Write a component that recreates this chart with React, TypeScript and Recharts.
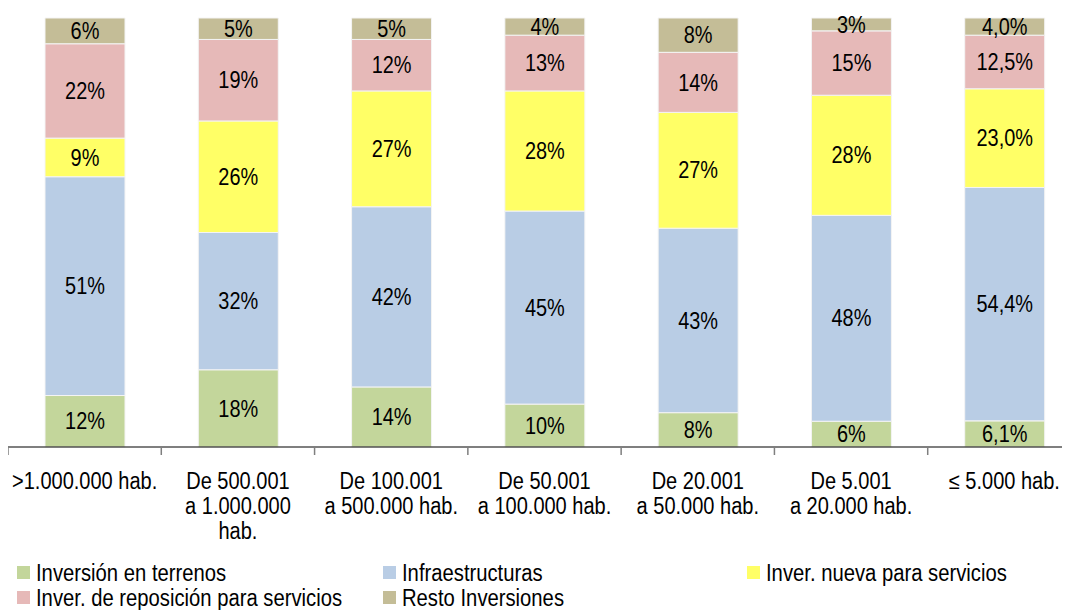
import React from "react";
import { BarChart, Bar, XAxis, YAxis, LabelList } from "recharts";

const categories = [
  ">1.000.000 hab.",
  "De 500.001\na 1.000.000\nhab.",
  "De 100.001\na 500.000 hab.",
  "De 50.001\na 100.000 hab.",
  "De 20.001\na 50.000 hab.",
  "De 5.001\na 20.000 hab.",
  "≤ 5.000 hab.",
];
const decimals = [0, 0, 0, 0, 0, 0, 1];

const terrenos = [12, 18, 14, 10, 8, 6, 6.1];
const infraestructuras = [51, 32, 42, 45, 43, 48, 54.4];
const nueva = [9, 26, 27, 28, 27, 28, 23.0];
const reposicion = [22, 19, 12, 13, 14, 15, 12.5];
const resto = [6, 5, 5, 4, 8, 3, 4.0];

const series = [
  { key: "terrenos", name: "Inversión en terrenos", values: terrenos, color: "#C3D69B" },
  { key: "infra", name: "Infraestructuras", values: infraestructuras, color: "#B9CDE5" },
  { key: "nueva", name: "Inver. nueva para servicios", values: nueva, color: "#FFFF66" },
  { key: "repo", name: "Inver. de reposición para servicios", values: reposicion, color: "#E6B9B8" },
  { key: "resto", name: "Resto Inversiones", values: resto, color: "#C4BD97" },
];

const legendOrder = [
  ["terrenos", "infra", "nueva"],
  ["repo", "resto"],
];

const FONT = '"Liberation Sans", Arial, sans-serif';

const fmt = (v: number, d: number) => v.toFixed(d).replace(".", ",") + "%";

const data = categories.map((name, i) => {
  const row: any = { name };
  series.forEach((s) => {
    row[s.key] = s.values[i];
    row[s.key + "_label"] = fmt(s.values[i], decimals[i]);
  });
  return row;
});

const CatTick = (props: any) => {
  const { x, y, payload } = props;
  const lines = String(payload.value).split("\n");
  const half = typeof payload.offset === "number" ? payload.offset : 0;
  return (
    <g>
      <line x1={x - half} x2={x - half} y1={y} y2={y + 8} stroke="#7f7f7f" strokeWidth={1.5} />
      <g transform={`translate(${x},${y}) scale(0.87,1)`}>
        <text x={0} y={0} textAnchor="middle" fill="#000" fontSize={23} fontFamily={FONT}>
          {lines.map((l, i) => (
            <tspan key={i} x={0} y={42 + i * 25}>
              {l}
            </tspan>
          ))}
        </text>
      </g>
    </g>
  );
};

const SegLabel = (props: any) => {
  const vb = props.viewBox || props;
  const cx = vb.x + vb.width / 2;
  const cy = vb.y + vb.height / 2;
  return (
    <g transform={`translate(${cx},${cy}) scale(0.83,1)`}>
      <text x={0} y={0} textAnchor="middle" dominantBaseline="central" fill="#000" fontSize={24} fontFamily={FONT}>
        {props.value}
      </text>
    </g>
  );
};

export default function App() {
  return (
    <div style={{ position: "relative", width: 1062, height: 602 }}>
      <style>{"html, body { overflow: hidden; }"}</style>
      <div style={{ width: 1062, height: 545, overflow: "hidden" }}>
        <BarChart
          width={1073}
          height={545}
          data={data}
          margin={{ top: 10, right: 0, left: 0, bottom: 0 }}
        >
          <XAxis
            dataKey="name"
            interval={0}
            tick={<CatTick />}
            tickLine={false}
            tickSize={0}
            tickMargin={0}
            axisLine={{ stroke: "#000", strokeWidth: 1.2 }}
            height={106}
          />
          <YAxis hide domain={[0, 100]} />
          {series.map((s) => (
            <Bar
              key={s.key}
              dataKey={s.key}
              stackId="a"
              fill={s.color}
              stroke="#f4f4f4"
              strokeWidth={1}
              barSize={80}
              isAnimationActive={false}
            >
              <LabelList dataKey={s.key + "_label"} position="center" content={<SegLabel />} />
            </Bar>
          ))}
        </BarChart>
      </div>
      <div style={{ position: "absolute", left: 9, top: 552, width: 1040, height: 50, fontFamily: FONT, fontSize: 23, color: "#000" }}>
        {legendOrder.map((row, r) => (
          <div key={r} style={{ display: "flex", height: 25, alignItems: "center" }}>
            {row.map((k, c) => {
              const s = series.find((x) => x.key === k)!;
              return (
                <div key={k} style={{ width: c === 2 ? 300 : c === 0 ? 366 : 364, display: "flex", alignItems: "center" }}>
                  <span style={{ width: 13, height: 13, background: s.color, display: "inline-block", marginRight: 6, flex: "none" }} />
                  <span style={{ whiteSpace: "nowrap", display: "inline-block", lineHeight: "22px", transform: "scaleX(0.88)", transformOrigin: "left center" }}>
                    {s.name}
                  </span>
                </div>
              );
            })}
          </div>
        ))}
      </div>
    </div>
  );
}
